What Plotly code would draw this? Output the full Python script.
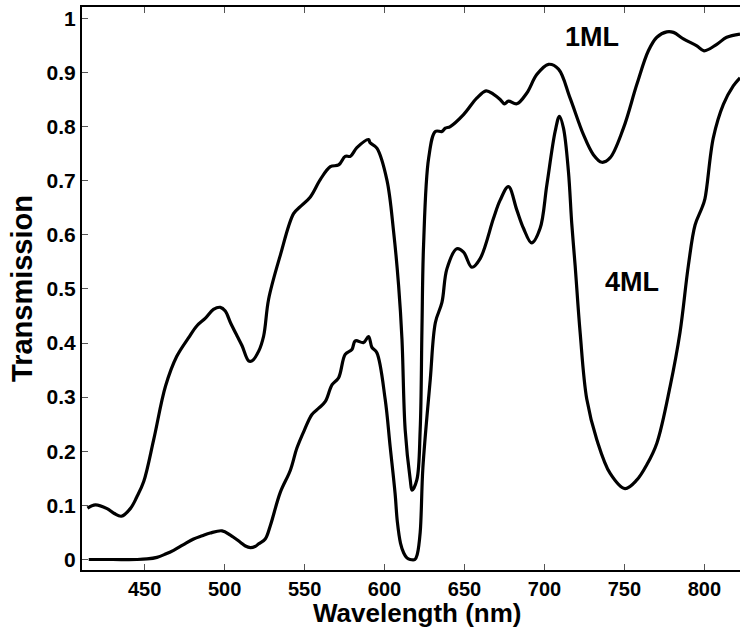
import plotly.graph_objects as go

wl_1ml = [414.2, 419.2, 426.5, 431, 435.4, 441, 445, 449.4, 455.6, 463, 470, 477.5, 482.7, 488, 493, 497.3,
          500.4, 503.6, 507.8, 510.9, 515, 517.1, 521.3, 524.4, 527.5, 534.8, 543.1, 547.3, 553.6, 559.8,
          566.1, 571.3, 575.4, 578.6, 582.7, 590, 591, 595.2, 601.5, 605.7, 608.8, 610.9, 612.9, 616.1,
          617.2, 620.2, 622.3, 623.4, 624.4, 627.6, 631.8, 635.9, 638, 641.1, 649.4, 657.8, 663.5, 668,
          672.3, 675, 677.5, 682.7, 689, 695.2, 702.5, 708.8, 716, 724.4, 730.6, 735.9, 741, 749.4, 757.8,
          765, 770.3, 776.5, 780.7, 786.9, 795.3, 799.8, 807.8, 814, 822.3]
tr_1ml = [0.095, 0.101, 0.094, 0.085, 0.080, 0.094, 0.115, 0.144, 0.221, 0.32, 0.375, 0.41, 0.432, 0.446,
          0.462, 0.466, 0.459, 0.438, 0.413, 0.395, 0.367, 0.367, 0.385, 0.413, 0.481, 0.562, 0.639, 0.652,
          0.670, 0.702, 0.726, 0.729, 0.745, 0.745, 0.761, 0.776, 0.770, 0.760, 0.701, 0.605, 0.506, 0.407,
          0.24, 0.147, 0.128, 0.147, 0.24, 0.426, 0.58, 0.742, 0.791, 0.791, 0.797, 0.80, 0.822, 0.853,
          0.866, 0.86, 0.85, 0.842, 0.847, 0.842, 0.862, 0.896, 0.915, 0.906, 0.853, 0.785, 0.748, 0.734,
          0.742, 0.797, 0.878, 0.94, 0.965, 0.975, 0.974, 0.962, 0.949, 0.94, 0.952, 0.965, 0.971]

wl_4ml = [415, 430, 445, 451.5, 457.7, 463, 468.1, 474, 480.6, 486, 491, 498.4, 503.6, 509.8, 513, 516.1,
          519, 521.3, 525.4, 528.6, 534.8, 541.1, 545.2, 550, 554.6, 559, 563, 567.2, 571.3, 575.4, 579.6,
          581.7, 586.9, 590, 592.1, 595.2, 600.4, 603.5, 606.6, 608, 610, 612, 614, 616, 619, 620.5, 622.3,
          624, 628.6, 631.8, 635.9, 639, 645.2, 649.4, 654.6, 659.8, 668.1, 672.3, 677.5, 682.7, 686.9,
          692, 697.3, 701.5, 706.7, 709.4, 711.9, 715, 717.1, 719.2, 722.3, 726.5, 732.8, 741.1, 750.4,
          757.8, 764, 770.3, 778.6, 784.8, 790, 794.2, 798.4, 800.4, 805.6, 811.9, 818.1, 822.3]
tr_4ml = [0.0, 0.0, 0.0, 0.001, 0.004, 0.010, 0.017, 0.027, 0.038, 0.044, 0.049, 0.053, 0.045, 0.032,
          0.025, 0.022, 0.024, 0.029, 0.038, 0.063, 0.124, 0.165, 0.206, 0.24, 0.268, 0.28, 0.292, 0.323,
          0.336, 0.379, 0.388, 0.404, 0.401, 0.412, 0.392, 0.382, 0.296, 0.209, 0.122, 0.07, 0.03, 0.012,
          0.003, 0.0, 0.0, 0.01, 0.05, 0.17, 0.333, 0.438, 0.475, 0.537, 0.574, 0.568, 0.540, 0.556, 0.630,
          0.664, 0.689, 0.646, 0.612, 0.585, 0.612, 0.692, 0.791, 0.819, 0.797, 0.717, 0.62, 0.543, 0.42,
          0.296, 0.221, 0.159, 0.131, 0.147, 0.175, 0.215, 0.32, 0.42, 0.543, 0.618, 0.649, 0.667, 0.779,
          0.841, 0.875, 0.89]

x_ticks = [450, 500, 550, 600, 650, 700, 750, 800]
y_ticks = [0, 0.1, 0.2, 0.3, 0.4, 0.5, 0.6, 0.7, 0.8, 0.9, 1]
y_tick_labels = ["0", "0.1", "0.2", "0.3", "0.4", "0.5", "0.6", "0.7", "0.8", "0.9", "1"]

labels = ["1ML", "4ML"]
label_x = [730, 755]
label_y = [0.965, 0.513]
x_title = "Wavelength (nm)"
y_title = "Transmission"

FONT = "Liberation Sans, Arial, sans-serif"

fig = go.Figure()
fig.add_trace(go.Scatter(x=wl_1ml, y=tr_1ml, mode="lines", line=dict(color="black", width=3.2),
                         line_shape="spline", showlegend=False))
fig.add_trace(go.Scatter(x=wl_4ml, y=tr_4ml, mode="lines", line=dict(color="black", width=3.2),
                         line_shape="spline", showlegend=False))

for t, lx, ly in zip(labels, label_x, label_y):
    fig.add_annotation(x=lx, y=ly, xref="x", yref="y", text=t, showarrow=False,
                       font=dict(family=FONT, size=27, color="black", weight="bold"))

# x-axis title placed as a paper annotation at the bottom edge
fig.add_annotation(x=0.5, y=0, xref="paper", yref="paper", xshift=6, yshift=-59,
                   yanchor="bottom", xanchor="center", text=x_title, showarrow=False,
                   borderpad=0,
                   font=dict(family=FONT, size=26, color="black", weight="bold"))

fig.update_layout(
    width=740, height=628,
    margin=dict(l=82, r=0, t=7, b=58),
    paper_bgcolor="white", plot_bgcolor="white",
    font=dict(family=FONT, color="black", weight="bold"),
    xaxis=dict(
        range=[410.8, 822.3], tickvals=x_ticks, ticks="inside", ticklen=6, tickwidth=1,
        tickcolor="#555", showline=True, linecolor="black", linewidth=2, mirror="ticks",
        showgrid=False, zeroline=False, ticklabelstandoff=0,
        tickfont=dict(family=FONT, size=20, color="black", weight="bold"),
    ),
    yaxis=dict(
        range=[-0.0194, 1.0209], tickvals=y_ticks, ticktext=y_tick_labels, ticks="inside",
        ticklen=6, tickwidth=1, tickcolor="#555", showline=True, linecolor="black", linewidth=2,
        showgrid=False, zeroline=False,
        tickfont=dict(family=FONT, size=21, color="black", weight="bold"),
        title=dict(text=y_title, standoff=5,
                   font=dict(family=FONT, size=29, color="black", weight="bold")),
    ),
)

fig.write_html("out.html", config={"displayModeBar": False},
               post_script="document.body.style.margin='0';document.body.style.overflow='hidden';")
